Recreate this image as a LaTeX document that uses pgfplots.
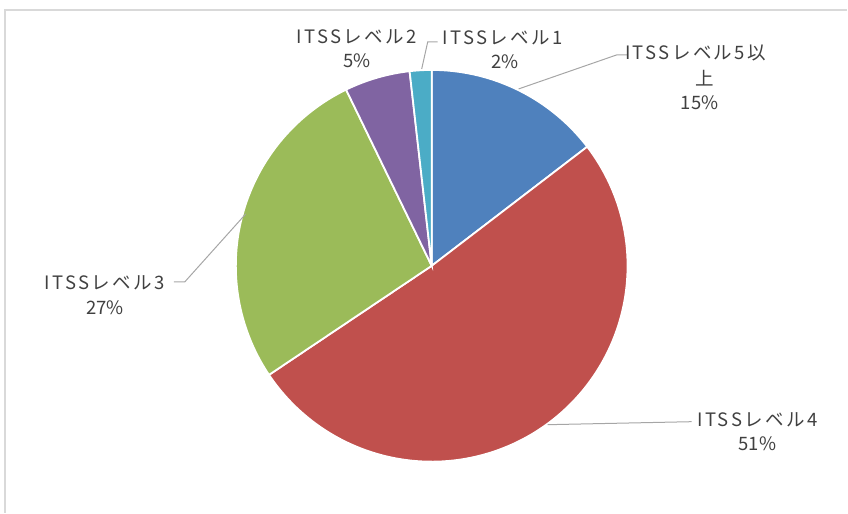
\documentclass[border=0pt]{standalone}
\usepackage{pgfplots}
\pgfplotsset{compat=1.18}
\usepackage{fontspec}
\setmainfont{Noto Sans CJK JP}
\newfontfamily\jp[LetterSpace=13]{Noto Sans CJK JP}
\newfontfamily\jpn{Noto Sans CJK JP}
\definecolor{c1}{HTML}{4F81BD}
\definecolor{c2}{HTML}{C0504D}
\definecolor{c3}{HTML}{9BBB59}
\definecolor{c4}{HTML}{8064A2}
\definecolor{c5}{HTML}{4BACC6}
\definecolor{txt}{HTML}{404040}
\definecolor{lead}{HTML}{A6A6A6}
\definecolor{framec}{HTML}{D9D9D9}
\tikzset{lbl/.style={font=\jp\fontsize{18.5bp}{22bp}\selectfont, text=txt, inner sep=0pt},
  pct/.style={font=\jpn\fontsize{18.5bp}{22bp}\selectfont, text=txt, inner sep=0pt}}
\begin{document}
\begin{tikzpicture}
% values (percent): Level5+, Level4, Level3, Level2, Level1
\def\vA{14.6}\def\vB{51.0}\def\vC{27.2}\def\vD{5.4}\def\vE{1.8}
\pgfmathsetmacro\aA{90}
\pgfmathsetmacro\aB{\aA-3.6*\vA}
\pgfmathsetmacro\aC{\aB-3.6*\vB}
\pgfmathsetmacro\aD{\aC-3.6*\vC}
\pgfmathsetmacro\aE{\aD-3.6*\vD}
\pgfmathsetmacro\aF{\aE-3.6*\vE}
\begin{axis}[x=1bp, y=1bp, xmin=0, xmax=848, ymin=-513, ymax=0,
  hide axis, clip=false, scale only axis]
\addplot[draw=none, forget plot] coordinates {(0,0) (848,-513)};
\addplot[framec, line width=1.2bp] coordinates {(5,-513) (5,-10) (848,-10)};
\addplot[fill=c1, draw=white, line width=1.8bp, domain=\aB:\aA, samples=80, variable=\t] ({432+196*cos(\t)},{-266+196*sin(\t)}) -- (axis cs:432,-266) -- cycle;
\addplot[fill=c2, draw=white, line width=1.8bp, domain=\aC:\aB, samples=150, variable=\t] ({432+196*cos(\t)},{-266+196*sin(\t)}) -- (axis cs:432,-266) -- cycle;
\addplot[fill=c3, draw=white, line width=1.8bp, domain=\aD:\aC, samples=100, variable=\t] ({432+196*cos(\t)},{-266+196*sin(\t)}) -- (axis cs:432,-266) -- cycle;
\addplot[fill=c4, draw=white, line width=1.8bp, domain=\aE:\aD, samples=30, variable=\t] ({432+196*cos(\t)},{-266+196*sin(\t)}) -- (axis cs:432,-266) -- cycle;
\addplot[fill=c5, draw=white, line width=1.8bp, domain=\aF:\aE, samples=20, variable=\t] ({432+196*cos(\t)},{-266+196*sin(\t)}) -- (axis cs:432,-266) -- cycle;
% leader lines
\addplot[lead, line width=1bp] coordinates {(519,-89) (617,-55) (628,-55)};
\addplot[lead, line width=1bp] coordinates {(422,-69) (428,-42) (438,-42)};
\addplot[lead, line width=1bp] coordinates {(246,-214) (185,-282) (174,-282)};
\addplot[lead, line width=1bp] coordinates {(548,-425) (692,-422)};
% labels
\node[lbl] at (axis cs:357,-37) {ITSSレベル2};
\node[pct] at (axis cs:357,-61) {5\%};
\node[lbl] at (axis cs:503,-38) {ITSSレベル1};
\node[pct] at (axis cs:505,-62) {2\%};
\node[lbl] at (axis cs:696,-53) {ITSSレベル5以};
\node[pct] at (axis cs:705,-78) {上};
\node[pct] at (axis cs:700,-103) {15\%};
\node[lbl] at (axis cs:105,-283) {ITSSレベル3};
\node[pct] at (axis cs:105,-308) {27\%};
\node[lbl] at (axis cs:758,-420) {ITSSレベル4};
\node[pct] at (axis cs:758,-444) {51\%};
\end{axis}
\end{tikzpicture}
\end{document}
